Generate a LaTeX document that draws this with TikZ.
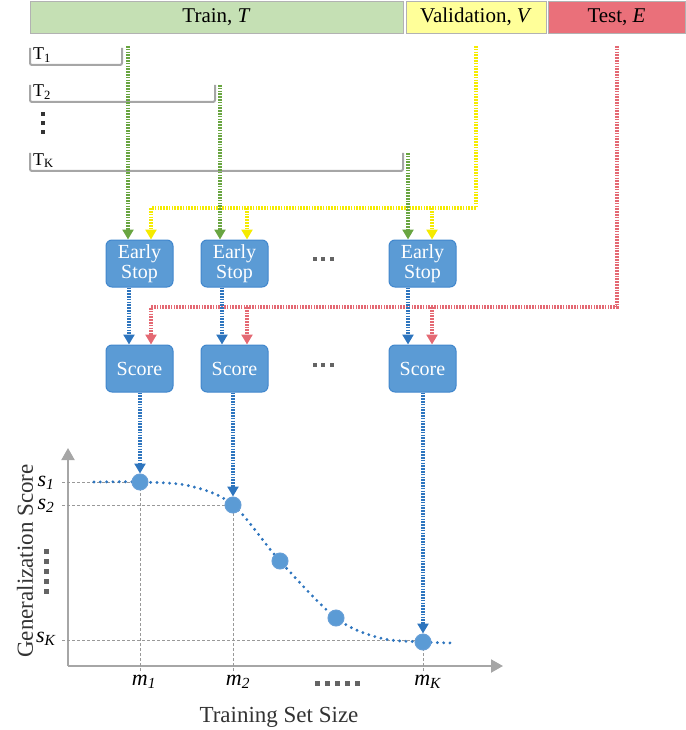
\documentclass[tikz,border=0pt]{standalone}
\usepackage{fontspec}
\setmainfont{Liberation Serif}
\usetikzlibrary{arrows.meta,calc}
\definecolor{trainfill}{RGB}{197,224,180}
\definecolor{valfill}{RGB}{255,255,153}
\definecolor{testfill}{RGB}{234,112,122}
\definecolor{boxfill}{RGB}{91,155,213}
\definecolor{boxdraw}{RGB}{65,135,205}
\definecolor{gline}{RGB}{105,165,65}
\definecolor{yline}{RGB}{245,235,0}
\definecolor{rline}{RGB}{228,105,115}
\definecolor{bline}{RGB}{46,117,190}
\definecolor{axisgray}{RGB}{166,166,166}
\definecolor{dotgray}{RGB}{100,100,100}
\begin{document}
\begin{tikzpicture}[x=1pt,y=-1pt,
  hdr/.style={draw=black!30, line width=0.8pt, minimum height=32pt, inner sep=0pt,
    font=\fontsize{21}{24}\selectfont},
  proc/.style={draw=boxdraw, fill=boxfill, rounded corners=6pt, line width=1pt,
    minimum width=67pt, minimum height=47pt, text=white, align=center, inner sep=0pt,
    font=\fontsize{20}{20}\selectfont},
  conn/.style={line width=3.4pt, dash pattern=on 1.7pt off 1.1pt,
    -{Triangle[width=11pt,length=10pt]}},
  brk/.style={draw=axisgray, line width=2pt, rounded corners=2pt},
  guide/.style={draw=black!40, line width=0.8pt, dash pattern=on 3pt off 2pt},
  axis/.style={draw=axisgray, line width=2pt, -{Triangle[width=13pt,length=12pt]}},
  pt/.style={circle, fill=boxfill, draw=boxdraw!80, line width=1pt, minimum size=16pt, inner sep=0pt},
  curve/.style={draw=bline, line width=3.2pt, line cap=round, dash pattern=on 0pt off 6.3pt},
  lbl/.style={font=\fontsize{18}{20}\selectfont, anchor=base west, inner sep=0pt},
  axlbl/.style={font=\fontsize{22}{24}\selectfont, inner sep=0pt},
  dotsq/.style={fill=dotgray},
  ttl/.style={font=\fontsize{23}{26}\selectfont, text=black!80, inner sep=0pt},
]
\useasboundingbox (0,0) rectangle (685,730);

% headers
\node[hdr, fill=trainfill, minimum width=373pt] (train) at (216.5,17) {Train, \textit{T}};
\node[hdr, fill=valfill, minimum width=140pt] (val) at (476,17) {Validation, \textit{V}};
\node[hdr, fill=testfill, minimum width=137pt] (test) at (616.5,17) {Test, \textit{E}};

% subset brackets
\draw[brk] (30,48) -- (30,65) -- (122,65) -- (122,48);
\draw[brk] (30,85) -- (30,102) -- (215,102) -- (215,85);
\draw[brk] (30,153) -- (30,171) -- (403,171) -- (403,153);
\node[lbl] (t1) at (33,60) {T\textsubscript{1}};
\node[lbl] (t2) at (33,97) {T\textsubscript{2}};
\node[lbl] (tk) at (33,165) {T\textsubscript{K}};
\foreach \yy in {114,123,132} \fill[black!80] (41.3,\yy-1.7) rectangle (44.7,\yy+1.7);

% process boxes
\node[proc] (es1) at (139.5,263.5) {Early\\Stop};
\node[proc] (es2) at (234.5,263.5) {Early\\Stop};
\node[proc] (es3) at (422.5,263.5) {Early\\Stop};
\node[proc] (sc1) at (139.5,368.5) {Score};
\node[proc] (sc2) at (234.5,368.5) {Score};
\node[proc] (sc3) at (422.5,368.5) {Score};
\foreach \xx in {314.5,323,331.5} {
  \fill[dotgray] (\xx-2,259-2) rectangle (\xx+2,259+2);
  \fill[dotgray] (\xx-2,365-2) rectangle (\xx+2,365+2);
}

% connector anchor coordinates
\coordinate (g1) at (128,46);
\coordinate (g2) at (220,85);
\coordinate (gk) at (408,153);
\coordinate (v0) at (476,46);
\coordinate (yb1) at (151,208);
\coordinate (yb2) at (247,208);
\coordinate (yb3) at (432,208);
\coordinate (r0) at (617,46);
\coordinate (rb1) at (151,307);
\coordinate (rb2) at (247,307);
\coordinate (rb3) at (432,307);
\coordinate (b1) at (129,0);
\coordinate (b2) at (222,0);
\coordinate (b3) at (408,0);

% validation (yellow)
\draw[conn, draw=yline] (v0) |- (yb1) -- (yb1 |- es1.north);
\draw[conn, draw=yline] (yb2) -- (yb2 |- es2.north);
\draw[conn, draw=yline] (yb3) -- (yb3 |- es3.north);
% train subsets (green)
\draw[conn, draw=gline] (g1) -- (g1 |- es1.north);
\draw[conn, draw=gline] (g2) -- (g2 |- es2.north);
\draw[conn, draw=gline] (gk) -- (gk |- es3.north);
% test (red)
\draw[conn, draw=rline] (r0) |- (rb1) -- (rb1 |- sc1.north);
\draw[conn, draw=rline] (rb2) -- (rb2 |- sc2.north);
\draw[conn, draw=rline] (rb3) -- (rb3 |- sc3.north);
% early stop -> score (blue)
\draw[conn, draw=bline] (b1 |- es1.south) -- (b1 |- sc1.north);
\draw[conn, draw=bline] (b2 |- es2.south) -- (b2 |- sc2.north);
\draw[conn, draw=bline] (b3 |- es3.south) -- (b3 |- sc3.north);

% plot
\coordinate (o) at (68,666);
\coordinate (ytop) at (68,448);
\coordinate (xend) at (503,666);
\draw[axis] (o) -- (ytop);
\draw[axis] (o) -- (xend);

% guide lines
\coordinate (s1l) at (62,482);
\coordinate (s2l) at (62,505);
\coordinate (skl) at (62,640);
\coordinate (m1b) at (140,671);
\coordinate (m2b) at (233,671);
\coordinate (mkb) at (423,671);
\draw[guide] (s1l) -- (140,482);
\draw[guide] (s2l) -- (233,505);
\draw[guide] (skl) -- (423,640);
\draw[guide] (m1b) -- (140,482);
\draw[guide] (m2b) -- (233,505);
\draw[guide] (mkb) -- (423,642);

\draw[curve] plot[smooth, tension=0.55] coordinates
  {(94,482) (140,482) (190,486) (233,505) (280,561) (336,618) (380,638) (423,642) (455,643)};

\node[pt] (p1) at (140,482) {};
\node[pt] (p2) at (233,505) {};
\node[pt] (p3) at (280,561) {};
\node[pt] (p4) at (336,618) {};
\node[pt] (p5) at (423,642) {};

\draw[conn, draw=bline] (sc1.south -| p1) -- (p1.north);
\draw[conn, draw=bline] (sc2.south -| p2) -- (p2.north);
\draw[conn, draw=bline] (sc3.south -| p5) -- (p5.north);

% axis labels
\node[axlbl] (s1) at (46,483) {\textit{s}\textsubscript{\textit{1}}};
\node[axlbl] (s2) at (46,506) {\textit{s}\textsubscript{\textit{2}}};
\node[axlbl] (sk) at (46,639) {\textit{s}\textsubscript{\textit{K}}};
\node[axlbl] (m1) at (144,682) {\textit{m}\textsubscript{\textit{1}}};
\node[axlbl] (m2) at (238,682) {\textit{m}\textsubscript{\textit{2}}};
\node[axlbl] (mk) at (428,682) {\textit{m}\textsubscript{\textit{K}}};
\foreach \yy in {551,561,571,581,591} \fill[dotsq] (43.5,\yy-2.5) rectangle (48.5,\yy+2.5);
\foreach \xx in {317,327,337,347,357} \fill[dotsq] (\xx-2.5,683-2.5) rectangle (\xx+2.5,683+2.5);

\node[ttl] (xt) at (279,717) {Training Set Size};
\node[ttl, rotate=90] (yt) at (25,561) {Generalization Score};
\end{tikzpicture}
\end{document}
